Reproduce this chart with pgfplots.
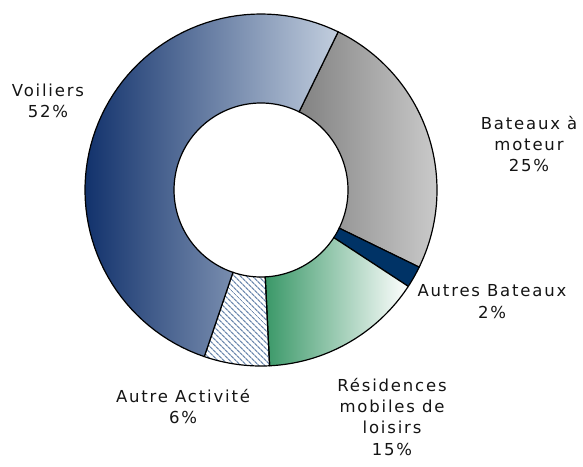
\documentclass[border=0pt]{standalone}
\usepackage{pgfplots}
\pgfplotsset{compat=1.18}
\usepackage{fontspec}
\setmainfont{DejaVu Sans}
\newfontfamily\labfont[LetterSpace=11]{DejaVu Sans}
\usetikzlibrary{patterns.meta}

% donut geometry (pixel units, y measured upwards)
\def\cx{261}\def\cy{276}
\def\Ro{176}\def\Ri{87}
\gdef\curang{64}

\definecolor{voilL}{RGB}{18,50,108}
\definecolor{voilR}{RGB}{194,206,222}
\definecolor{batL}{RGB}{130,130,130}
\definecolor{batR}{RGB}{202,202,202}
\definecolor{autB}{RGB}{0,51,102}
\definecolor{resL}{RGB}{58,152,104}
\definecolor{resR}{RGB}{255,255,255}
\definecolor{hatch}{RGB}{110,138,175}
\definecolor{txt}{RGB}{20,20,20}

\tikzset{
  sBat/.style={draw=black, line width=1.2pt, left color=batL, right color=batR},
  sAutB/.style={draw=black, line width=1.2pt, fill=autB},
  sRes/.style={draw=black, line width=1.2pt, left color=resL, right color=resR},
  sAct/.style={draw=black, line width=1.2pt, fill=white, pattern={Lines[angle=-45,distance=4pt,line width=1.3pt]}, pattern color=hatch},
  sVoil/.style={draw=black, line width=1.2pt, left color=voilL, right color=voilR},
  lab/.style={anchor=base, font=\labfont\fontsize{16.5}{20}\selectfont, text=txt, inner sep=0pt}
}

% #1 = percentage, #2 = style
\newcommand\ringslice[2]{%
  \pgfmathsetmacro\aS{\curang}%
  \pgfmathsetmacro\aE{\curang-3.6*#1}%
  \gdef\pts{}%
  \foreach \k in {0,...,72}{%
    \pgfmathsetmacro\ang{\aS+(\aE-\aS)*\k/72}%
    \pgfmathsetmacro\px{\cx+\Ro*cos(\ang)}%
    \pgfmathsetmacro\py{\cy+\Ro*sin(\ang)}%
    \xdef\pts{\pts(\px,\py)}%
  }%
  \foreach \k in {0,...,72}{%
    \pgfmathsetmacro\ang{\aE+(\aS-\aE)*\k/72}%
    \pgfmathsetmacro\px{\cx+\Ri*cos(\ang)}%
    \pgfmathsetmacro\py{\cy+\Ri*sin(\ang)}%
    \xdef\pts{\pts(\px,\py)}%
  }%
  \pgfmathsetmacro\px{\cx+\Ro*cos(\aS)}%
  \pgfmathsetmacro\py{\cy+\Ro*sin(\aS)}%
  \xdef\pts{\pts(\px,\py)}%
  \xdef\curang{\aE}%
  \edef\tmp{\noexpand\addplot[#2] coordinates {\pts};}\tmp
}

\begin{document}
\begin{tikzpicture}
\path[use as bounding box] (0,0) rectangle (583pt,466pt);
\begin{axis}[
  at={(0,0)}, anchor=south west,
  width=583pt, height=466pt, scale only axis,
  xmin=0, xmax=583, ymin=0, ymax=466,
  hide axis, clip=false
]
% shares (%), clockwise from the top
\ringslice{25}{sBat}   % Bateaux a moteur
\ringslice{2}{sAutB}   % Autres Bateaux
\ringslice{15}{sRes}   % Residences mobiles de loisirs
\ringslice{6}{sAct}    % Autre Activite
\ringslice{52}{sVoil}  % Voiliers

\node[lab] at (axis cs:48,369) {Voiliers};
\node[lab] at (axis cs:48,348) {52\%};
\node[lab] at (axis cs:529,336) {Bateaux à};
\node[lab] at (axis cs:529,315) {moteur};
\node[lab] at (axis cs:529,294) {25\%};
\node[lab] at (axis cs:492,169) {Autres Bateaux};
\node[lab] at (axis cs:492,147) {2\%};
\node[lab] at (axis cs:183,64) {Autre Activité};
\node[lab] at (axis cs:183,43) {6\%};
\node[lab] at (axis cs:392,75) {Résidences};
\node[lab] at (axis cs:392,54) {mobiles de};
\node[lab] at (axis cs:392,33) {loisirs};
\node[lab] at (axis cs:392,11) {15\%};
\end{axis}
\end{tikzpicture}
\end{document}
